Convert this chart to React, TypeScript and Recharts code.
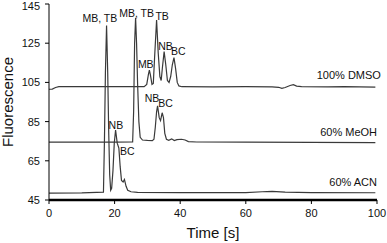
import React from 'react';
import { LineChart, Line, XAxis, YAxis, ReferenceDot } from 'recharts';

// Time axis (s) and fluorescence values for each solvent trace
const dmsoTime = [0, 1, 2, 3, 10, 20, 29, 29.8, 30.3, 30.6, 30.9, 31.4, 31.8, 32.2, 32.8, 33.3, 33.8, 34.2, 34.6, 35.1, 35.6, 36.1, 36.6, 37.1, 37.6, 38.1, 38.6, 39.1, 39.6, 40.5, 50, 60, 68, 70, 71, 72, 73.5, 74.5, 75.5, 77, 85, 90, 99.5];
const dmsoSignal = [101.5, 101.6, 102.4, 102.8, 102.8, 102.8, 102.8, 104, 109, 111.3, 109, 104, 104.5, 118, 136.8, 120, 108, 106, 113, 120.7, 114, 106, 105, 108, 114, 117.6, 112, 105, 103.2, 102.8, 102.7, 102.8, 102.7, 102.5, 102.0, 102.4, 103.4, 103.8, 103.1, 102.8, 102.7, 102.8, 102.6];

const meohTime = [0, 10, 20, 25.5, 25.8, 26.1, 26.4, 26.7, 27.0, 27.4, 27.8, 28.5, 30, 31.5, 32.0, 32.4, 32.8, 33.1, 33.6, 34.0, 34.5, 34.9, 35.3, 35.8, 36.5, 37.4, 38.2, 39, 40.4, 41.5, 42.5, 45, 60, 80, 99.5];
const meohSignal = [74.5, 74.5, 74.5, 74.6, 90, 125, 138, 125, 105, 85, 77, 75.6, 75.4, 75.3, 76, 82, 90, 93, 87, 85.5, 89.5, 87, 79, 76, 75.5, 76.2, 75.3, 75.8, 76, 75.6, 74.8, 74.6, 74.5, 74.4, 74.3];

const acnTime = [0, 10, 16.6, 16.9, 17.2, 17.55, 17.9, 18.2, 18.5, 18.8, 19.1, 19.5, 19.9, 20.3, 20.8, 21.3, 21.7, 22.1, 22.6, 23.0, 23.5, 24.0, 25, 27, 40, 60, 65, 68, 72, 80, 99.5];
const acnSignal = [48.5, 48.6, 49, 75, 110, 134, 110, 80, 58, 50, 51, 60, 74, 80.7, 74, 71.5, 62, 55, 54.2, 55.5, 52, 50, 49.2, 48.9, 48.8, 48.8, 49.2, 49.4, 49, 48.8, 48.7];

const xTicks = [0, 20, 40, 60, 80, 100];
const yTicks = [45, 65, 85, 105, 125, 145];

// Peak annotations (data coordinates)
const peakLabelText = ['MB, TB', 'MB, TB', 'TB', 'MB', 'NB', 'BC', 'NB', 'BC', 'NB', 'BC'];
const peakLabelX = [15.5, 26.7, 34.5, 29.5, 35.5, 39.4, 31.4, 35.5, 20.4, 23.9];
const peakLabelY = [138.1, 140.3, 139.0, 114.5, 123.7, 120.9, 97.0, 94.5, 83.3, 70.0];

const traceNames = ['100% DMSO', '60% MeOH', '60% ACN'];
const traceNameX = [101.2, 100, 100];
const traceNameY = [108.8, 79.7, 54.3];

const toSeries = (t: number[], v: number[]) => t.map((x, i) => ({ t: x, v: v[i] }));

const dmsoData = toSeries(dmsoTime, dmsoSignal);
const meohData = toSeries(meohTime, meohSignal);
const acnData = toSeries(acnTime, acnSignal);

const FONT = '"Liberation Sans", Arial, sans-serif';
const TRACE = '#3a3a3a';

export default function App() {
  return (
    <div style={{ position: 'absolute', left: 0, top: 0, width: 387, height: 243, background: '#fff', fontFamily: FONT }}>
      <LineChart width={387} height={243} margin={{ top: 4, right: 10, bottom: 0, left: 0 }}>
        <XAxis
          type="number"
          dataKey="t"
          domain={[0, 100]}
          ticks={xTicks}
          allowDataOverflow
          axisLine={{ stroke: '#000', strokeWidth: 2.5 }}
          tickLine={{ stroke: '#000' }}
          tickSize={4}
          tickMargin={5}
          height={43}
          tick={{ fill: '#111', fontSize: 11, fontFamily: FONT }}
          label={{ value: 'Time [s]', position: 'insideBottom', offset: 5, fill: '#111', fontSize: 15, fontFamily: FONT }}
        />
        <YAxis
          type="number"
          domain={[45, 145]}
          ticks={yTicks}
          allowDataOverflow
          width={49}
          axisLine={{ stroke: '#000', strokeWidth: 1 }}
          tickLine={{ stroke: '#000' }}
          tickSize={4}
          tickMargin={5}
          tick={{ fill: '#111', fontSize: 11, fontFamily: FONT }}
          label={{ value: 'Fluorescence', angle: -90, position: 'center', dx: -17, fill: '#111', fontSize: 15, fontFamily: FONT }}
        />
        <Line data={acnData} dataKey="v" type="linear" stroke={TRACE} strokeWidth={1.2} dot={false} isAnimationActive={false} />
        <Line data={meohData} dataKey="v" type="linear" stroke={TRACE} strokeWidth={1.2} dot={false} isAnimationActive={false} />
        <Line data={dmsoData} dataKey="v" type="linear" stroke={TRACE} strokeWidth={1.2} dot={false} isAnimationActive={false} />
        {peakLabelText.map((txt, i) => (
          <ReferenceDot
            key={'p' + i}
            x={peakLabelX[i]}
            y={peakLabelY[i]}
            r={1}
            ifOverflow="visible"
            shape={(p: any) => (
              <text x={p.cx} y={p.cy} textAnchor="middle" dominantBaseline="central" fontSize={10.5} fontFamily={FONT} fill="#111">
                {txt}
              </text>
            )}
          />
        ))}
        {traceNames.map((txt, i) => (
          <ReferenceDot
            key={'n' + i}
            x={traceNameX[i]}
            y={traceNameY[i]}
            r={1}
            ifOverflow="visible"
            shape={(p: any) => (
              <text x={p.cx} y={p.cy} textAnchor="end" dominantBaseline="central" fontSize={11} fontFamily={FONT} fill="#111">
                {txt}
              </text>
            )}
          />
        ))}
      </LineChart>
    </div>
  );
}
